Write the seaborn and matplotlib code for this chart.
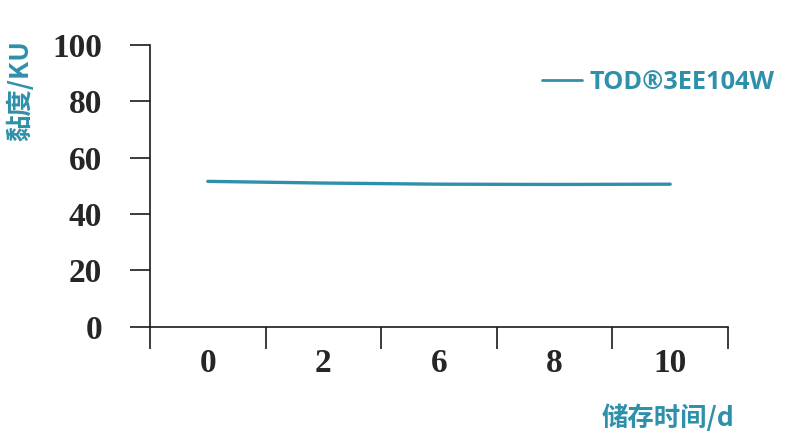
import matplotlib
matplotlib.use("Agg")
import matplotlib.pyplot as plt
import seaborn as sns
import pandas as pd
import numpy as np

# data
days = ["0", "2", "6", "8", "10"]
viscosity = [51.6, 51.0, 50.6, 50.5, 50.6]
series_name = "TOD®3EE104W"
y_ticks = [0, 20, 40, 60, 80, 100]

teal = "#2E90AA"
cjk = ["Noto Sans CJK SC", "DejaVu Sans"]

sns.set_theme(style="ticks")
plt.rcParams["font.family"] = cjk

df = pd.DataFrame({"day": days, "ku": viscosity})

fig = plt.figure(figsize=(8, 4.46), dpi=100)
ax = fig.add_axes([0.1875, 0.2675, 0.7225, 0.6315])

sns.lineplot(data=df, x="day", y="ku", sort=False, color=teal, lw=2.4,
             label=series_name, ax=ax)

ax.set_xlim(-0.5, len(days) - 0.5)
ax.set_ylim(0, 100)
sns.despine(ax=ax)
for s in ("left", "bottom"):
    ax.spines[s].set_color("#1a1a1a")
    ax.spines[s].set_linewidth(1.2)

# category axis: ticks between categories, labels at centers
ax.set_xticks(np.arange(len(days) + 1) - 0.5)
ax.set_xticklabels([])
ax.set_xticks(np.arange(len(days)), minor=True)
ax.set_xticklabels(days, minor=True)
ax.tick_params(axis="x", which="major", length=16, width=1.2, color="#1a1a1a", direction="out")
ax.tick_params(axis="x", which="minor", length=0, pad=15)

ax.set_yticks(y_ticks)
ax.tick_params(axis="y", length=14.5, width=1.2, color="#1a1a1a", pad=20)

for lab in ax.get_xticklabels(minor=True) + ax.get_yticklabels():
    lab.set_family("Liberation Serif")
    lab.set_fontweight("bold")
    lab.set_fontsize(24)
    lab.set_color("#262626")

ax.set_xlabel("")
ax.set_ylabel("")
fig.text(0.026, 0.796, "黏度/KU", rotation=90, ha="center", va="center",
         color=teal, fontsize=19, fontweight="bold", family=cjk)
fig.text(0.918, 0.062, "储存时间/d", ha="right", va="center",
         color=teal, fontsize=19, fontweight="bold", family=cjk)

leg = ax.legend(loc="center left", bbox_to_anchor=(0.678, 0.816), bbox_transform=fig.transFigure,
                frameon=False, handlelength=1.57, handletextpad=0.3, borderpad=0, borderaxespad=0,
                prop={"family": "Open Sans", "weight": "bold", "size": 18.3},
                labelcolor=teal)
for h in leg.get_lines():
    h.set_linewidth(2.0)

fig.savefig("out.png", dpi=100)
